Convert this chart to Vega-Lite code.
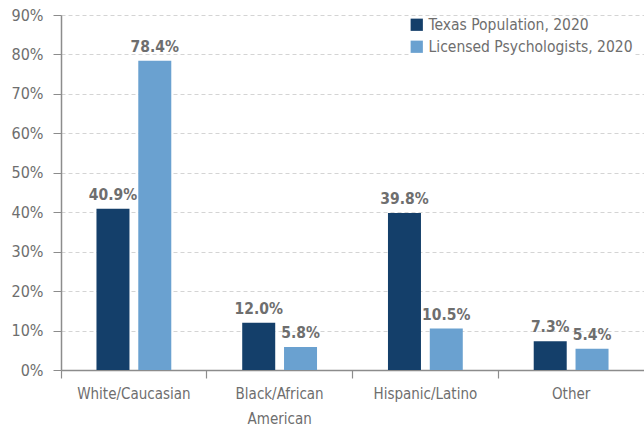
{
  "$schema": "https://vega.github.io/schema/vega-lite/v6.json",
  "width": 583,
  "height": 355,
  "autosize": {"type": "none"},
  "padding": {"left": 61, "top": 15, "right": 0, "bottom": 60},
  "background": "white",
  "config": {
    "view": {"stroke": null},
    "font": "DejaVu Sans Condensed",
    "axis": {"labelFont": "DejaVu Sans Condensed", "labelColor": "#6e6e6e", "labelFontSize": 15},
    "legend": {"labelFont": "DejaVu Sans Condensed"}
  },
  "data": {
    "values": [
      {"group": "White/Caucasian", "series": "Texas Population, 2020", "value": 0.409},
      {"group": "White/Caucasian", "series": "Licensed Psychologists, 2020", "value": 0.784},
      {"group": "Black/African American", "series": "Texas Population, 2020", "value": 0.12},
      {"group": "Black/African American", "series": "Licensed Psychologists, 2020", "value": 0.058},
      {"group": "Hispanic/Latino", "series": "Texas Population, 2020", "value": 0.398},
      {"group": "Hispanic/Latino", "series": "Licensed Psychologists, 2020", "value": 0.105},
      {"group": "Other", "series": "Texas Population, 2020", "value": 0.073},
      {"group": "Other", "series": "Licensed Psychologists, 2020", "value": 0.054}
    ]
  },
  "encoding": {
    "x": {
      "field": "group",
      "type": "nominal",
      "sort": ["White/Caucasian", "Black/African American", "Hispanic/Latino", "Other"],
      "scale": {"paddingInner": 0, "paddingOuter": 0},
      "axis": {
        "title": null,
        "labelAngle": 0,
        "bandPosition": 0,
        "labelBound": false,
        "domainColor": "#8c8c8c",
        "domainWidth": 1.5,
        "tickColor": "#8c8c8c",
        "tickSize": 8,
        "tickWidth": 1.2,
        "labelPadding": 8,
        "labelLineHeight": 25,
        "labelExpr": "datum.label == 'Black/African American' ? ['Black/African', 'American'] : datum.label"
      }
    },
    "xOffset": {
      "field": "series",
      "type": "nominal",
      "sort": ["Texas Population, 2020", "Licensed Psychologists, 2020"],
      "scale": {"paddingInner": 0.214, "paddingOuter": 0.85}
    },
    "y": {
      "field": "value",
      "type": "quantitative",
      "scale": {"domain": [0, 0.9], "nice": false},
      "axis": {
        "title": null,
        "format": ".0%",
        "values": [0, 0.1, 0.2, 0.3, 0.4, 0.5, 0.6, 0.7, 0.8, 0.9],
        "labelOverlap": false,
        "labelFontSize": 16,
        "domainColor": "#8c8c8c",
        "domainWidth": 1.5,
        "tickColor": "#8c8c8c",
        "tickSize": 8,
        "labelPadding": 10,
        "gridColor": "#d4d4d4",
        "gridDash": [4, 3],
        "gridWidth": 1
      }
    },
    "color": {
      "field": "series",
      "type": "nominal",
      "sort": ["Texas Population, 2020", "Licensed Psychologists, 2020"],
      "scale": {"range": ["#143f6a", "#6aa1d0"]},
      "legend": {
        "title": null,
        "orient": "none",
        "legendX": 348,
        "legendY": 2,
        "symbolType": "square",
        "symbolSize": 150,
        "symbolStrokeWidth": 0,
        "symbolOpacity": 1,
        "labelFontSize": 15.5,
        "labelColor": "#6e6e6e",
        "labelLimit": 300,
        "rowPadding": 5,
        "fillColor": "white"
      }
    }
  },
  "layer": [
    {"mark": {"type": "bar", "width": 33}},
    {
      "mark": {"type": "text", "baseline": "bottom", "dy": -6, "fontSize": 15.5, "fontWeight": "bold", "font": "DejaVu Sans Condensed"},
      "encoding": {
        "text": {"field": "value", "type": "quantitative", "format": ".1%"},
        "color": {"value": "#6e6e6e"}
      }
    }
  ]
}
